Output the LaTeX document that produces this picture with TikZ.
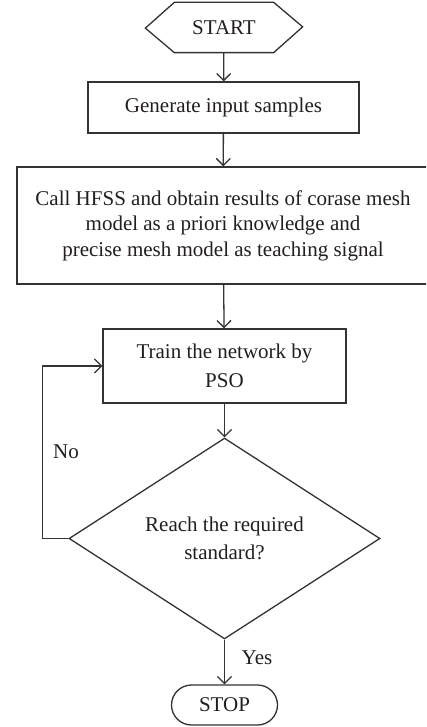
\documentclass[tikz,border=0pt]{standalone}
\usepackage{fontspec}
\setmainfont{Liberation Serif}
\usetikzlibrary{arrows.meta,shapes.geometric}
\definecolor{ln}{HTML}{333333}
\definecolor{tx}{HTML}{231F20}
\begin{document}
\begin{tikzpicture}[x=1pt,y=-1pt, line width=1.3pt,
  every node/.style={font=\fontsize{21}{25.5}\selectfont, text=tx, align=center, inner sep=0pt},
  box/.style={draw=ln, rectangle},
  arr/.style={draw=ln, -{Straight Barb[length=7pt,width=14pt]}},
  lbl/.style={font=\fontsize{21}{24}\selectfont}]
\useasboundingbox (0,0) rectangle (426,727);
\clip (0,0) rectangle (426,727);
\fill[white] (0,0) rectangle (426,727);

\node (start) [minimum width=98pt, minimum height=49pt] at (224,27.5) {START};
\draw[ln, line join=miter] (start.north west) -- (start.north east) -- ++(29,24.5) -- (start.south east)
  -- (start.south west) -- ++(-29,-24.5) -- cycle;

\node[box, minimum width=271pt, minimum height=51pt] (gen) at (223.5,107.5) {Generate input samples};
\node[box, minimum width=412pt, minimum height=117pt] (hfss) at (223,225.5)
  {Call HFSS and obtain results of corase mesh\\model as a priori knowledge and\\precise mesh model as teaching signal};
\node[box, minimum width=243pt, minimum height=74pt] (train) at (224.5,366)
  {Train the network by\\[3pt]PSO};
\node[draw=ln, diamond, minimum width=311pt, minimum height=137pt] (dec) at (224.5,538.5)
  {Reach the required\\[2pt]standard?};
\node[draw=ln, rectangle, rounded corners=20pt, minimum width=106pt, minimum height=40pt] (stop) at (224.5,705) {STOP};

\draw[arr] (start) -- (gen);
\draw[arr] (gen) -- (hfss);
\draw[arr] (hfss) -- (train);
\draw[arr] (train) -- (dec);
\draw[arr] (dec) -- (stop);
\draw[arr] (dec.west) -- ++(-26,0) |- (train.west);

\node[lbl] (no) at (66,452) {No};
\node[lbl] (yes) at (257,658) {Yes};
\end{tikzpicture}
\end{document}
